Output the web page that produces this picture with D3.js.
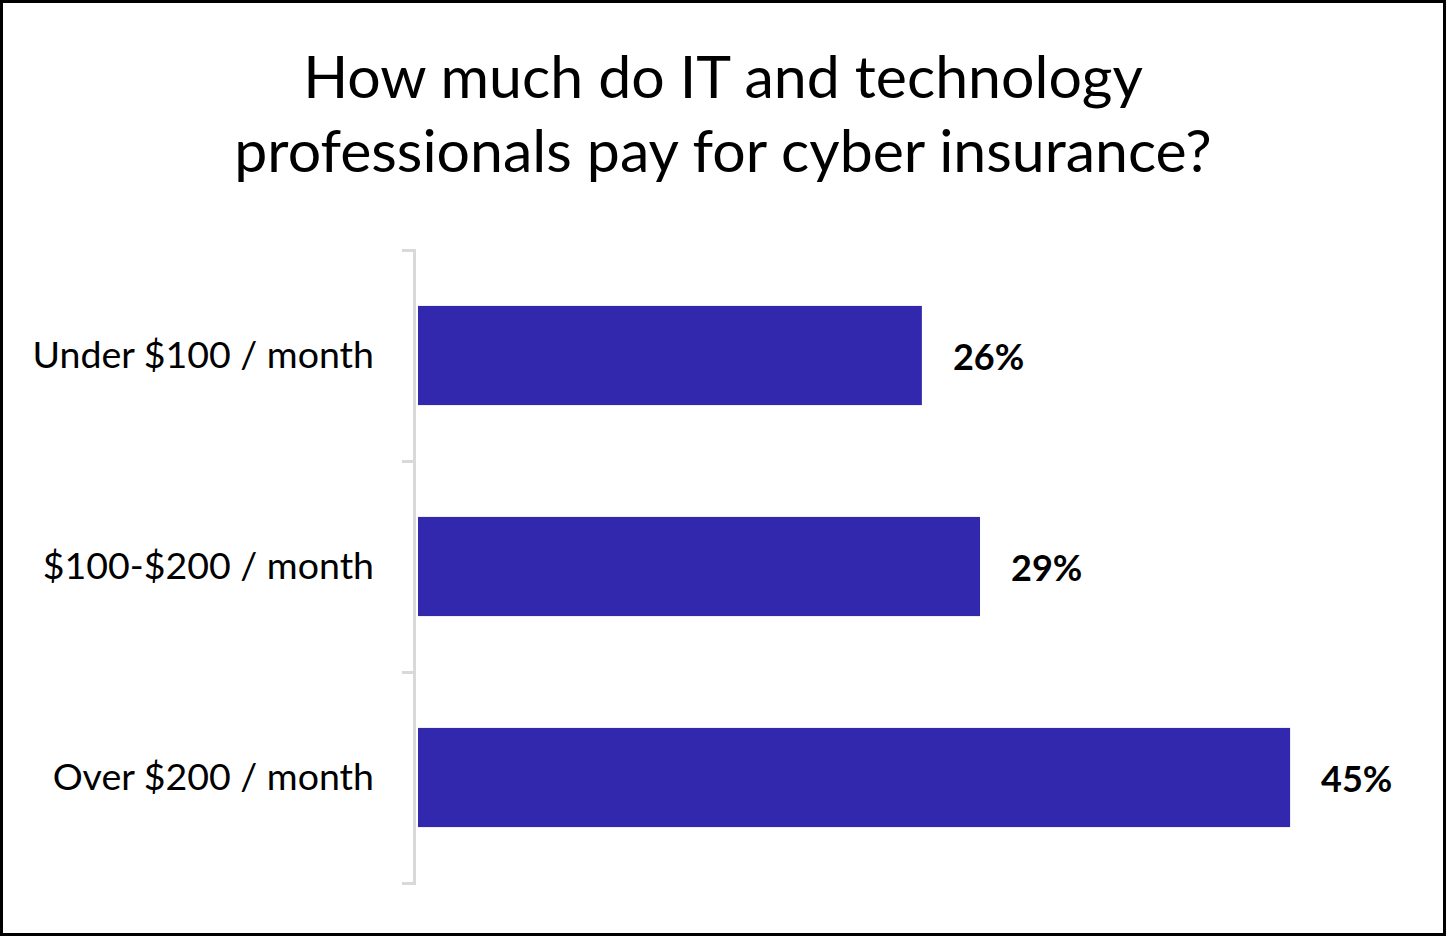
<!DOCTYPE html>
<html>
<head>
<meta charset="utf-8">
<script src="https://cdn.jsdelivr.net/npm/d3@7"></script>
<style>
  body { margin: 0; background: #fff; }
  svg { display: block; font-family: Lato, "Noto Sans", sans-serif; }
</style>
</head>
<body>
<script>
// données
const categories = ["Under $100 / month", "$100-$200 / month", "Over $200 / month"]
const valeurs = [26, 29, 45]
const titre = ["How much do IT and technology", "professionals pay for cyber insurance?"]

const width = 1446, height = 936

let svg = d3.select("body")
    .append("svg")
    .attr("width", width)
    .attr("height", height)

// cadre noir
svg.append("rect")
    .attr("x", 1.5).attr("y", 1.5)
    .attr("width", width - 3).attr("height", height - 3)
    .attr("fill", "#fff")
    .attr("stroke", "#000")
    .attr("stroke-width", 3)

// titre
svg.append("text")
    .attr("text-anchor", "middle")
    .attr("font-size", 59)
    .attr("fill", "#000")
    .selectAll("tspan")
    .data(titre)
    .enter()
    .append("tspan")
    .attr("x", 723)
    .attr("y", (d, i) => 98 + i * 74)
    .text(d => d)

// échelles
let x = d3.scaleLinear()
    .domain([0, 50])
    .range([418, 418 + 50 * 19.38])

let y = d3.scaleBand()
    .domain(categories)
    .range([250, 883])
    .paddingInner(0.53)
    .paddingOuter(0.265)

let yBords = d3.scaleLinear()
    .domain([0, categories.length])
    .range([250, 883])

// axe avec graduations entre les catégories
let axeBords = svg.append("g")
    .attr("transform", "translate(414,0)")
    .call(d3.axisLeft(yBords).tickValues(d3.range(categories.length + 1)).tickSize(12).tickFormat(""))
axeBords.select(".domain").attr("stroke", "#d9d9d9").attr("stroke-width", 3)
axeBords.selectAll(".tick line").attr("stroke", "#d9d9d9").attr("stroke-width", 3)

// libellés des catégories
let axeLabels = svg.append("g")
    .attr("transform", "translate(414,0)")
    .call(d3.axisLeft(y).tickSize(0).tickPadding(40))
axeLabels.select(".domain").remove()
axeLabels.selectAll("text")
    .attr("font-family", "Lato, 'Noto Sans', sans-serif")
    .attr("font-size", 37.5)
    .attr("fill", "#000")

// barres
svg.selectAll(".barre")
    .data(valeurs)
    .enter()
    .append("rect")
    .attr("class", "barre")
    .attr("x", x(0))
    .attr("y", (d, i) => y(categories[i]))
    .attr("width", d => x(d) - x(0))
    .attr("height", y.bandwidth())
    .attr("fill", "#3128ae")

// étiquettes des valeurs
svg.selectAll(".valeur")
    .data(valeurs)
    .enter()
    .append("text")
    .attr("class", "valeur")
    .attr("x", d => x(d) + 31)
    .attr("y", (d, i) => y(categories[i]) + y.bandwidth() / 2)
    .attr("dy", "0.4em")
    .attr("font-size", 36)
    .attr("font-weight", "bold")
    .attr("fill", "#000")
    .text(d => d + "%")
</script>
</body>
</html>
